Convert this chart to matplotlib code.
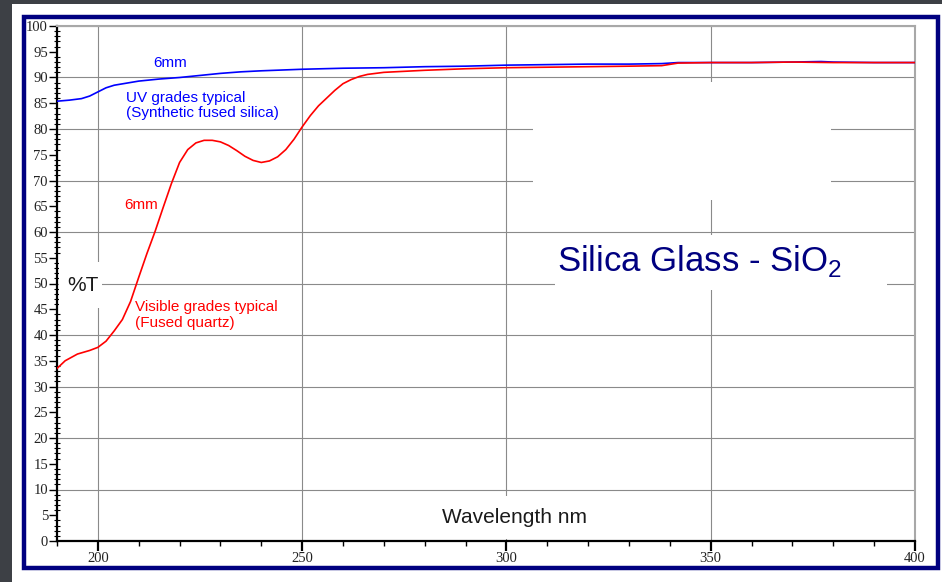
import matplotlib
matplotlib.use("Agg")
import matplotlib.pyplot as plt
from matplotlib.patches import Rectangle
from matplotlib.ticker import MultipleLocator

# transmission curves (wavelength nm, %T)
wl_uv = [190, 193, 196, 198, 200, 202, 204, 207, 210, 215, 220, 225, 230, 235, 240,
         250, 260, 270, 280, 290, 300, 310, 320, 330, 338, 342, 350, 360, 370, 377,
         380, 390, 400]
t_uv = [85.4, 85.6, 85.9, 86.4, 87.2, 88.0, 88.5, 88.9, 89.3, 89.7, 90.0, 90.4, 90.8,
        91.1, 91.3, 91.6, 91.8, 91.9, 92.1, 92.2, 92.4, 92.5, 92.6, 92.6, 92.7, 92.9,
        92.9, 92.9, 93.0, 93.1, 93.0, 92.9, 92.9]

wl_vis = [190, 192, 195, 198, 200, 202, 204, 206, 208, 210, 212, 214, 216, 218, 220,
          222, 224, 226, 228, 230, 232, 234, 236, 238, 240, 242, 244, 246, 248, 250,
          252, 254, 256, 258, 260, 262, 264, 266, 270, 275, 280, 290, 300, 310, 320,
          330, 338, 342, 350, 360, 370, 380, 390, 400]
t_vis = [33.5, 35.0, 36.3, 37.0, 37.6, 38.8, 40.8, 43.0, 46.5, 51.2, 55.8, 60.1, 64.8,
         69.4, 73.5, 76.0, 77.3, 77.8, 77.8, 77.5, 76.8, 75.8, 74.7, 73.9, 73.5, 73.8,
         74.6, 76.0, 78.0, 80.4, 82.6, 84.5, 86.0, 87.5, 88.8, 89.6, 90.2, 90.6, 91.0,
         91.2, 91.4, 91.7, 91.9, 92.0, 92.1, 92.2, 92.3, 92.8, 92.9, 92.9, 93.0, 92.9,
         92.9, 92.9]

x_labels = [200, 250, 300, 350, 400]

W, H = 942, 582
fig = plt.figure(figsize=(W / 100, H / 100), dpi=100, facecolor="#3d4045")

# white card and navy frame behind the chart
fig.add_artist(Rectangle((12 / W, 0), 1 - 12 / W, (H - 4) / H, transform=fig.transFigure,
                         facecolor="white", edgecolor="none", zorder=-2))
fig.add_artist(Rectangle((24 / W, (H - 568) / H), (938 - 24) / W, (568 - 17) / H,
                         transform=fig.transFigure, fill=False, edgecolor="#000080",
                         lw=3.2, zorder=1))

ax = fig.add_axes([57 / W, (H - 541) / H, (915 - 57) / W, (541 - 26) / H])
ax.set_xlim(190, 400)
ax.set_ylim(0, 100)
ax.set_axisbelow(True)

ax.plot(wl_uv, t_uv, color="#0000ff", lw=1.2, zorder=3)
ax.plot(wl_vis, t_vis, color="#ff0000", lw=1.2, zorder=3)

# grid
ax.set_xticks(x_labels)
ax.xaxis.set_minor_locator(MultipleLocator(10))
ax.yaxis.set_major_locator(MultipleLocator(5))
ax.yaxis.set_minor_locator(MultipleLocator(1))
for v in range(10, 101, 10):
    ax.axhline(v, color="#8a8a8a", lw=0.8, zorder=0.5)
for v in x_labels:
    ax.axvline(v, color="#8a8a8a", lw=0.8, zorder=0.5)

for s in ["top", "right"]:
    ax.spines[s].set_color("#a8a8a8")
    ax.spines[s].set_linewidth(1.5)
for s in ["left", "bottom"]:
    ax.spines[s].set_color("black")
    ax.spines[s].set_linewidth(1.6)

ax.tick_params(axis="y", which="major", direction="out", length=6, width=1, pad=0.5,
               labelsize=10.5, labelcolor="#222222")
ax.tick_params(axis="y", which="minor", direction="inout", length=5, width=0.8)
ax.tick_params(axis="x", which="major", direction="out", length=7, width=1.6, pad=1,
               labelsize=10.5, labelcolor="#222222")
ax.tick_params(axis="x", which="minor", direction="out", length=3.5, width=1)
ax.set_xticklabels([str(v) for v in x_labels])
for lab in ax.get_xticklabels() + ax.get_yticklabels():
    lab.set_family("Liberation Serif")

# white patches that hide the grid behind labels
for x0, y0, x1, y1 in [(306.4, 66.2, 379.5, 89.1), (311.8, 48.7, 393.2, 59.4),
                       (190.5, 45.2, 201.0, 54.2), (282.0, 0.3, 321.0, 8.7)]:
    ax.add_patch(Rectangle((x0, y0), x1 - x0, y1 - y0, facecolor="white",
                           edgecolor="none", zorder=1))

sans = "Liberation Sans"
ax.text(217.6, 92.8, "6mm", color="#0000ff", fontsize=11, family=sans,
        ha="center", va="center", zorder=4)
ax.text(206.9, 86.0, "UV grades typical", color="#0000ff", fontsize=11, family=sans,
        va="center", zorder=4)
ax.text(206.9, 83.1, "(Synthetic fused silica)", color="#0000ff", fontsize=11,
        family=sans, va="center", zorder=4)
ax.text(206.4, 65.2, "6mm", color="#ff0000", fontsize=11, family=sans,
        va="center", zorder=4)
ax.text(209.1, 45.4, "Visible grades typical", color="#ff0000", fontsize=11,
        family=sans, va="center", zorder=4)
ax.text(209.1, 42.3, "(Fused quartz)", color="#ff0000", fontsize=11, family=sans,
        va="center", zorder=4)

plt.rcParams["mathtext.fontset"] = "custom"
plt.rcParams["mathtext.rm"] = sans
ax.text(347.2, 54.4, r"Silica Glass - SiO$_{\mathrm{2}}$", color="#000080",
        fontsize=25, family=sans, ha="center", va="center", zorder=4)
ax.text(192.4, 49.7, "%T", color="#1a1a1a", fontsize=15, family=sans,
        va="center", zorder=4)
ax.text(302.0, 4.5, "Wavelength nm", color="#1a1a1a", fontsize=15, family=sans,
        ha="center", va="center", zorder=4)

fig.savefig("out.png", dpi=100, facecolor=fig.get_facecolor())
